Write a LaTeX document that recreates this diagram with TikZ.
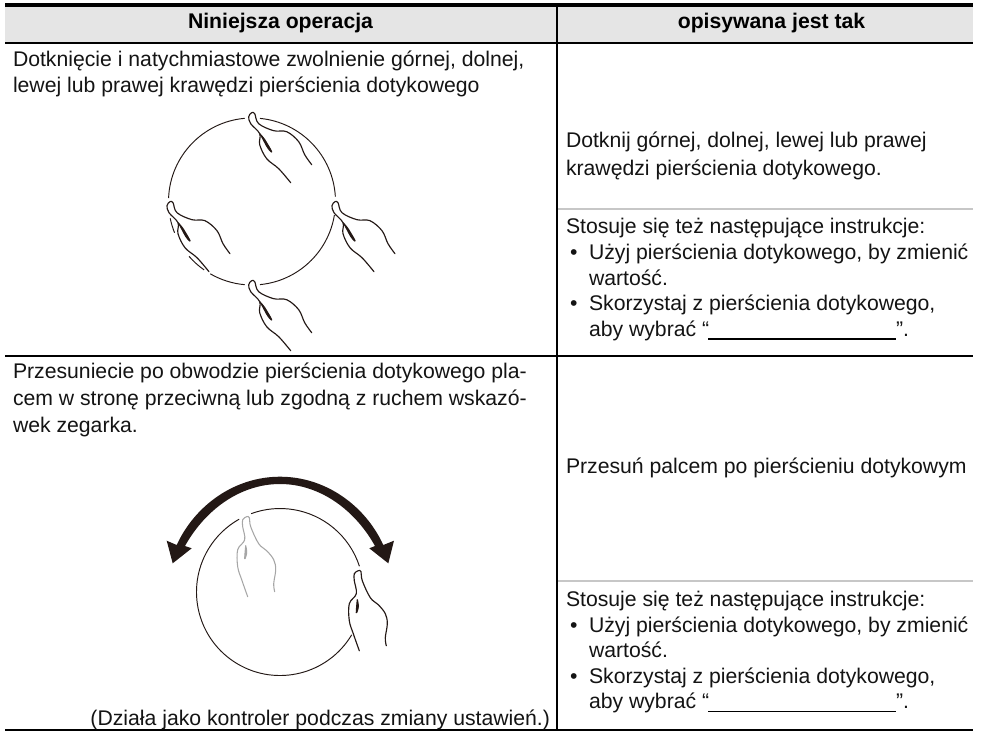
\documentclass[tikz,border=0pt]{standalone}
\usepackage{fontspec}
\setmainfont{Liberation Sans}
\definecolor{ink}{HTML}{231815}
\tikzset{
  x=1pt,y=-1pt,
  rule/.style={line width=2.2pt,black},
  grayrule/.style={line width=2pt,black!22},
  hand/.style={ink,line width=1.15pt,line cap=round,line join=round},
  ring/.style={ink,line width=0.95pt},
  txt/.style={anchor=base west,inner sep=0pt,outer sep=0pt,font=\fontsize{21.2}{24}\selectfont,text=black!92},
  head/.style={anchor=base,inner sep=0pt,outer sep=0pt,font=\fontsize{21.2}{24}\selectfont\bfseries},
  pics/touch/.style={code={
    \draw[hand] plot[smooth,tension=0.6] coordinates {(60,52) (53,42) (47,29) (35,19) (22,18) (7,11) (3,1) (0,0) (-3,4) (-1,11) (8,21) (8,32) (15,46) (27,56) (39,70)};
    \draw[hand,fill=ink] plot[smooth,tension=0.6] coordinates {(8,21) (13,27) (20,39) (16,35) (10,24) (8,21)};
  }},
  pics/slide/.style={code={
    \draw[#1] plot[smooth,tension=0.6] coordinates {(28,75) (27,67) (29,53) (27,43) (20,34) (12,27) (4,10) (2.7,1) (0,0) (-4,3) (-4,10) (-2,23) (-9,33) (-9,50) (-5,63) (1,80)};
    \draw[#1,fill] plot[smooth,tension=0.6] coordinates {(-1,29) (-2,42) (0,36) (-1,29)};
  }}
}
\newcommand{\ringarc}[5]{\draw[ring] (#1,#2) ++(#4:#3) arc[start angle=#4,end angle=#5,radius=#3];}
\begin{document}
\begin{tikzpicture}
\useasboundingbox (0,0) rectangle (981,731);
\fill[white] (0,0) rectangle (981,731);
\fill[black!10] (5,5) rectangle (973,42);
\draw[line width=4pt,black] (5,5.3) -- (973,5.3);
\draw[rule] (5,43.2) -- (973,43.2);
\draw[rule] (5,355.8) -- (973,355.8);
\draw[rule] (5,729.6) -- (973,729.6);
\draw[grayrule] (557,209) -- (973,209);
\draw[grayrule] (557,581) -- (973,581);
\draw[rule] (557,6) -- (557,729.6);
\node[head] (h1) at (280.5,28) {Niniejsza operacja};
\node[head] (h2) at (771.5,28) {opisywana jest tak};
\node[txt] (a1) at (13,66.5) {Dotknięcie i natychmiastowe zwolnienie górnej, dolnej,};
\node[txt] (a2) at (13,92) {lewej lub prawej krawędzi pierścienia dotykowego};
\node[txt] (a3) at (13,378.5) {Przesuniecie po obwodzie pierścienia dotykowego pla-};
\node[txt] (a4) at (13,405) {cem w stronę przeciwną lub zgodną z ruchem wskazó-};
\node[txt] (a5) at (13,432) {wek zegarka.};
\node[txt,anchor=base east] (a6) at (550,725) {(Działa jako kontroler podczas zmiany ustawień.)};
\node[txt] (b1) at (566,147.5) {Dotknij górnej, dolnej, lewej lub prawej};
\node[txt] (b2) at (566,175) {krawędzi pierścienia dotykowego.};
\node[txt] (b3) at (566,233) {Stosuje się też następujące instrukcje:};
\node[txt] (b4) at (570,259.5) {•};
\node[txt] (b5) at (589,259.5) {Użyj pierścienia dotykowego, by zmienić};
\node[txt] (b6) at (589,285) {wartość.};
\node[txt] (b7) at (570,310.5) {•};
\node[txt] (b8) at (589,310.5) {Skorzystaj z pierścienia dotykowego,};
\node[txt] (b9) at (589,336) {aby wybrać “};
\node[txt] (b10) at (896,336) {”.};
\draw[line width=1.8pt] (708,338.8) -- (896,338.8);
\node[txt] (c1) at (566,473) {Przesuń palcem po pierścieniu dotykowym};
\node[txt] (c3) at (566,606) {Stosuje się też następujące instrukcje:};
\node[txt] (c4) at (570,632) {•};
\node[txt] (c5) at (589,632) {Użyj pierścienia dotykowego, by zmienić};
\node[txt] (c6) at (589,657.5) {wartość.};
\node[txt] (c7) at (570,683) {•};
\node[txt] (c8) at (589,683) {Skorzystaj z pierścienia dotykowego,};
\node[txt] (c9) at (589,708.5) {aby wybrać “};
\node[txt] (c10) at (896,708.5) {”.};
\draw[line width=1.8pt] (708,711.5) -- (896,711.5);
% ring 1
\ringarc{252}{201.5}{83.5}{275.5}{356.6}
\ringarc{252}{201.5}{83.5}{9.3}{84.5}
\ringarc{252}{201.5}{83.5}{95}{120}
\ringarc{252}{201.5}{83.5}{125}{139}
\ringarc{252}{201.5}{83.5}{158}{168.4}
\ringarc{252}{201.5}{83.5}{182.4}{265}
\path (251.7,112.7) pic {touch};
\path (170,201.7) pic {touch};
\path (335,201.7) pic {touch};
\path (251.7,280.7) pic {touch};
% ring 2
\ringarc{280}{592}{83.5}{249.8}{342}
\ringarc{280}{592}{83.5}{30.8}{240.7}
\path (246.7,516.7) pic {slide={black!35,line width=1.05pt,line cap=round,line join=round}};
\path (358.3,570.7) pic {slide=hand};
% double arrow
\fill[ink] (172.7,563.3) -- (166.7,540.7) -- (176.7,545)
 .. controls (195,505) and (235,476.7) .. (280,476.7)
 .. controls (325,476.7) and (365,505) .. (383.3,545)
 -- (394,540.7) -- (388.3,563.3) -- (369.3,548.3) -- (375,546)
 .. controls (355,510) and (320,484) .. (280,484)
 .. controls (240,484) and (205,510) .. (185,546)
 -- (191.7,548.3) -- cycle;
\end{tikzpicture}
\end{document}
